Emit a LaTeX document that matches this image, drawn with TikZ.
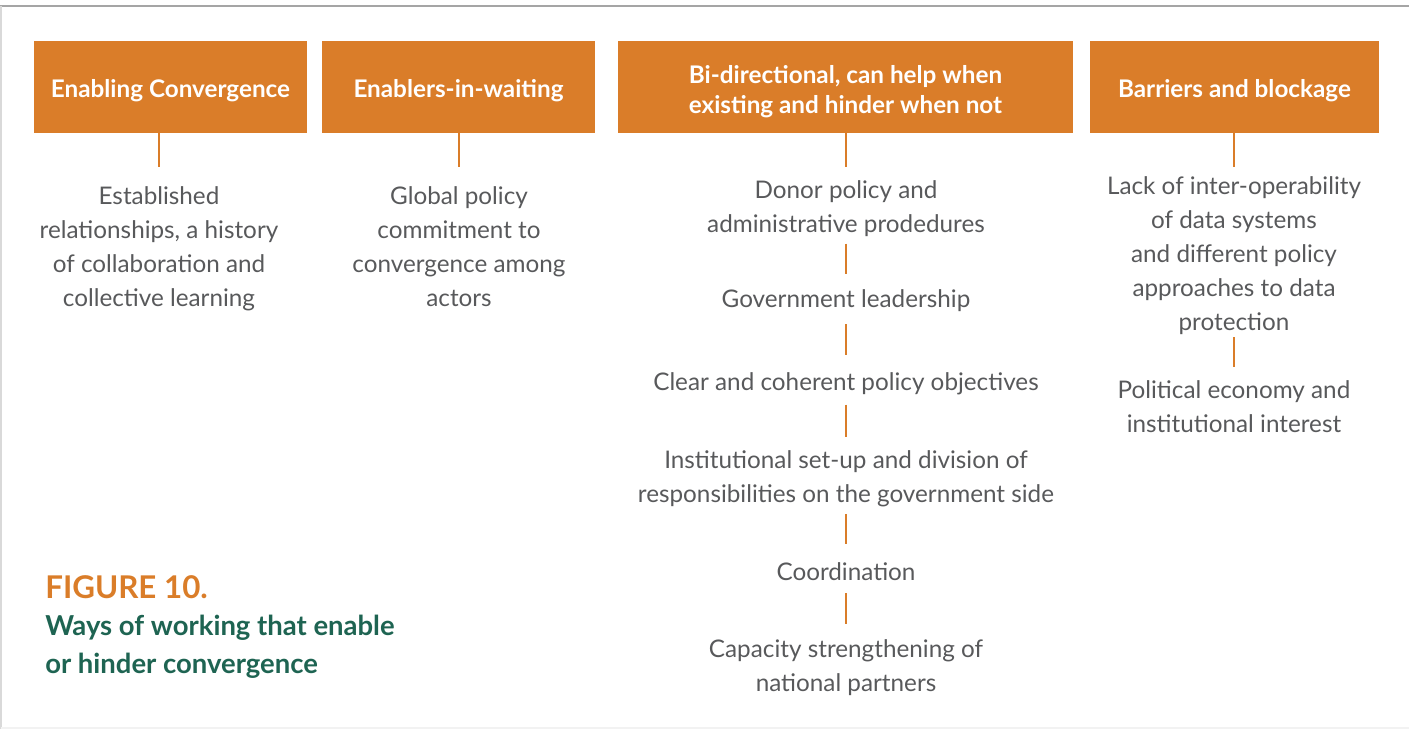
\documentclass[tikz,border=0pt]{standalone}
\usepackage{fontspec}
\setmainfont{Lato}
\usetikzlibrary{positioning}
\definecolor{figorange}{RGB}{218,125,41}
\definecolor{figgreen}{RGB}{30,100,82}
\definecolor{figgray}{RGB}{88,89,91}
\definecolor{framegray}{RGB}{165,165,165}

\begin{document}
\begin{tikzpicture}[x=0.75pt,y=-0.75pt,
  head/.style={fill=figorange,text=white,font=\fontsize{18.2}{22}\selectfont\bfseries,align=center,minimum height=69pt,inner sep=0pt},
  item/.style={text=figgray,font=\fontsize{18.2}{25.5}\selectfont,align=center,anchor=north,inner sep=0pt},
  link/.style={draw=figorange,line width=1.9pt}]
\useasboundingbox (0,0) rectangle (1409,729);
% frame
\draw[framegray,line width=1.2pt] (0,5.7) -- (1409,5.7);
\draw[gray!30,line width=0.8pt] (1,5.7) -- (1,729);
\draw[gray!10,line width=0.8pt] (1,728) -- (1409,728);
% headers
\node[head,minimum width=204.75pt,text height=19.2pt,text depth=3.75pt] (h1) at (170.5,87) {Enabling Convergence};
\node[head,minimum width=204.75pt,text height=19.2pt,text depth=3.75pt] (h2) at (458.5,87) {Enablers-in-waiting};
\node[head,minimum width=341.25pt] (h3) at (845.5,87) {\rule{0pt}{20.5pt}Bi-directional, can help when\\existing and hinder when not};
\node[head,minimum width=216.75pt,text height=19.2pt,text depth=3.75pt] (h4) at (1234.5,87) {Barriers and blockage};
% column texts
\node[item] (c1) at (159,186) {Established\\relationships, a history\\of collaboration and\\collective learning};
\node[item] (c2) at (459,186) {Global policy\\commitment to\\convergence among\\actors};
\node[item] (c3a) at (846,180.7) {Donor policy and\\administrative prodedures};
\node[item] (c3b) at (846,289.7) {Government leadership};
\node[item] (c3c) at (846,372.7) {Clear and coherent policy objectives};
\node[item] (c3d) at (846,450.7) {Institutional set-up and division of\\responsibilities on the government side};
\node[item] (c3e) at (846,562) {Coordination};
\node[item] (c3f) at (846,639) {Capacity strengthening of\\national partners};
\node[item] (c4a) at (1234,176.3) {Lack of inter-operability\\of data systems\\and different policy\\approaches to data\\protection};
\node[item] (c4b) at (1234,380.5) {Political economy and\\institutional interest};
% connectors
\draw[link,shorten >=14.5pt] (h1.south -| c1.north) -- (c1.north);
\draw[link,shorten >=14.5pt] (h2.south -| c2.north) -- (c2.north);
\draw[link,shorten >=10.3pt] (h3.south -| c3a.north) -- (c3a.north);
\draw[link,shorten >=7pt] (h4.south -| c4a.north) -- (c4a.north);
\draw[link,shorten <=4.7pt,shorten >=11.8pt] (c3a) -- (c3b);
\draw[link,shorten <=8.9pt,shorten >=13pt] (c3b) -- (c3c);
\draw[link,shorten <=6.8pt,shorten >=10.5pt] (c3c) -- (c3d);
\draw[link,shorten <=4.7pt,shorten >=13.5pt] (c3d) -- (c3e);
\draw[link,shorten <=9.5pt,shorten >=11.3pt] (c3e) -- (c3f);
\draw[link,shorten <=1.7pt,shorten >=10.3pt] (c4a) -- (c4b);
% caption
\node[anchor=base west,text=figorange,font=\fontsize{23.5}{28}\selectfont\bfseries,inner sep=0pt] (fig) at (45,598) {FIGURE 10.};
\node[anchor=north west,align=left,text=figgreen,font=\fontsize{20.6}{28.3}\selectfont\bfseries,inner sep=0pt] (cap) at (45,615.3) {Ways of working that enable\\or hinder convergence};
\end{tikzpicture}
\end{document}
